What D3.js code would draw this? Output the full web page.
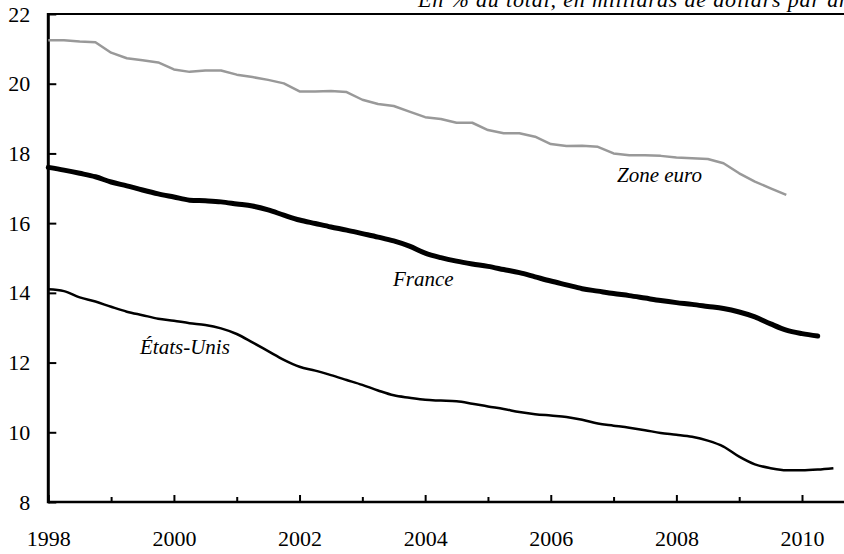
<!DOCTYPE html>
<html>
<head>
<meta charset="utf-8">
<script src="https://cdn.jsdelivr.net/npm/d3@7"></script>
<style>
  body { margin: 0; background: #fff; }
  svg { display: block; }
</style>
</head>
<body>
<div id="chart_pane"></div>
<script>
// data: quarterly values, first point = 1998 Q1
var startYear = 1998;
var yearTicks = [1998, 1999, 2000, 2001, 2002, 2003, 2004, 2005, 2006, 2007, 2008, 2009, 2010];
var yTicks = [8, 10, 12, 14, 16, 18, 20, 22];

var zoneEuro = [21.25, 21.25, 21.21, 21.19, 20.89, 20.73, 20.67, 20.61, 20.41, 20.34, 20.38, 20.38,
    20.26, 20.19, 20.11, 20.01, 19.78, 19.78, 19.79, 19.76, 19.54, 19.42, 19.36, 19.20,
    19.04, 18.99, 18.88, 18.88, 18.67, 18.58, 18.58, 18.48, 18.27, 18.21, 18.22, 18.19,
    18.00, 17.95, 17.95, 17.93, 17.88, 17.86, 17.84, 17.72, 17.43, 17.19, 17.00, 16.81];

var france = [17.60, 17.52, 17.43, 17.33, 17.18, 17.07, 16.95, 16.84, 16.75, 16.66, 16.64, 16.61,
    16.55, 16.49, 16.38, 16.23, 16.09, 15.99, 15.89, 15.80, 15.70, 15.60, 15.49, 15.34,
    15.14, 15.01, 14.91, 14.83, 14.76, 14.67, 14.58, 14.46, 14.34, 14.23, 14.12, 14.05,
    13.98, 13.92, 13.85, 13.78, 13.72, 13.67, 13.61, 13.55, 13.45, 13.31, 13.11, 12.93,
    12.83, 12.76];

var etatsUnis = [14.10, 14.05, 13.87, 13.75, 13.60, 13.46, 13.36, 13.26, 13.20, 13.13, 13.08, 12.98,
    12.82, 12.58, 12.33, 12.08, 11.88, 11.77, 11.64, 11.50, 11.36, 11.20, 11.06, 10.99,
    10.93, 10.91, 10.89, 10.82, 10.74, 10.67, 10.58, 10.52, 10.48, 10.44, 10.36, 10.25,
    10.19, 10.13, 10.06, 9.98, 9.93, 9.87, 9.76, 9.59, 9.30, 9.08, 8.97, 8.91,
    8.91, 8.93, 8.97];

var title = "En % du total, en milliards de dollars par an";

function drawChart() {
    var width = 844, height = 554;
    var x0 = 48.3, xEnd = 852, yTop = 14, yBottom = 502;
    var serif = "Liberation Serif, Tinos, DejaVu Serif, serif";

    var svg = d3.select("#chart_pane").append("svg")
        .attr("width", width)
        .attr("height", height);

    var xScale = d3.scaleLinear().domain([1998, 2010]).range([x0, 802]);
    var yScale = d3.scaleLinear().domain([8, 22]).range([yBottom, yTop]);

    // title, cut off at top and right like the original
    svg.append("text")
        .attr("x", 418)
        .attr("y", 7)
        .attr("textLength", 432)
        .attr("lengthAdjust", "spacing")
        .style("font-size", "22px")
        .style("font-style", "italic")
        .text(title);

    // x axis (ticks inside, labels every 2 years)
    var xAxis = d3.axisBottom(xScale)
        .tickValues(yearTicks)
        .tickSizeInner(-7)
        .tickSizeOuter(0)
        .tickPadding(28)
        .tickFormat(function(d) { return d % 2 === 0 ? d : ""; });

    var gx = svg.append("g")
        .attr("transform", "translate(0," + yBottom + ")")
        .call(xAxis);
    gx.select(".domain").remove();
    gx.selectAll(".tick line")
        .attr("stroke", "#000")
        .attr("stroke-width", 2)
        .attr("y2", function(d) { return d % 2 === 0 ? -7 : -5; });
    gx.selectAll("text")
        .style("font-size", "22px")
        .attr("fill", "#000");

    // y axis
    var yAxis = d3.axisLeft(yScale)
        .tickValues(yTicks)
        .tickSizeInner(-8)
        .tickSizeOuter(0)
        .tickPadding(18);

    var gy = svg.append("g")
        .attr("transform", "translate(" + x0 + ",0)")
        .call(yAxis);
    gy.select(".domain").remove();
    gy.selectAll(".tick line")
        .attr("stroke", "#000")
        .attr("stroke-width", 2);
    gy.selectAll("text")
        .style("font-size", "22px")
        .attr("fill", "#000");

    // frame lines
    svg.append("line")
        .attr("x1", x0).attr("x2", xEnd)
        .attr("y1", yBottom).attr("y2", yBottom)
        .attr("stroke", "#000").attr("stroke-width", 2.5);
    svg.append("line")
        .attr("x1", x0).attr("x2", x0)
        .attr("y1", yTop - 1).attr("y2", yBottom + 1.2)
        .attr("stroke", "#000").attr("stroke-width", 3);
    svg.append("line")
        .attr("x1", x0).attr("x2", xEnd)
        .attr("y1", yTop).attr("y2", yTop)
        .attr("stroke", "#000").attr("stroke-width", 2);

    // lines
    var lineLinear = d3.line()
        .x(function(d, i) { return xScale(startYear + i / 4); })
        .y(function(d) { return yScale(d); });

    var lineSmooth = d3.line()
        .x(function(d, i) { return xScale(startYear + i / 4); })
        .y(function(d) { return yScale(d); })
        .curve(d3.curveMonotoneX);

    svg.append("path")
        .datum(zoneEuro)
        .attr("d", lineLinear)
        .style("fill", "none")
        .style("stroke", "#999")
        .style("stroke-width", 2.5)
        .style("stroke-linejoin", "round");

    svg.append("path")
        .datum(france)
        .attr("d", lineSmooth)
        .style("fill", "none")
        .style("stroke", "#000")
        .style("stroke-width", 5)
        .style("stroke-linecap", "round")
        .style("stroke-linejoin", "round");

    svg.append("path")
        .datum(etatsUnis)
        .attr("d", lineSmooth)
        .style("fill", "none")
        .style("stroke", "#000")
        .style("stroke-width", 2.5)
        .style("stroke-linejoin", "round");

    // series labels
    var labels = [
        { text: "Zone euro", x: 617, y: 182 },
        { text: "France", x: 393, y: 286 },
        { text: "États-Unis", x: 140, y: 354 }
    ];
    svg.selectAll(".series-label")
        .data(labels)
        .enter().append("text")
        .attr("class", "series-label")
        .attr("x", function(d) { return d.x; })
        .attr("y", function(d) { return d.y; })
        .style("font-size", "21px")
        .style("font-style", "italic")
        .text(function(d) { return d.text; });

    svg.selectAll("text").attr("font-family", null).style("font-family", serif);
    gx.attr("font-family", serif);
    gy.attr("font-family", serif);
}

drawChart();
</script>
</body>
</html>
